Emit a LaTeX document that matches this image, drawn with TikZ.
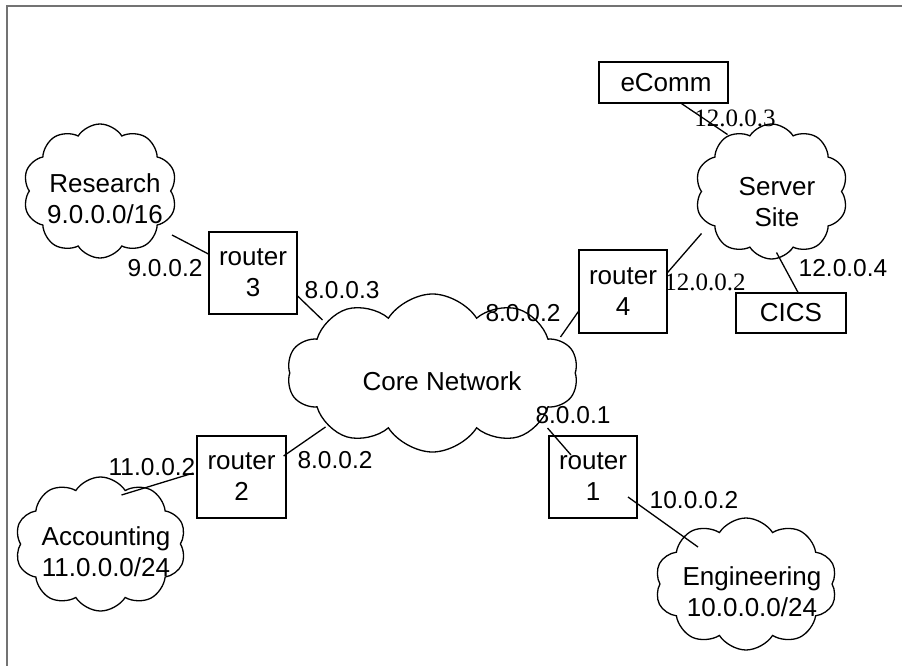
\documentclass[tikz,border=0pt]{standalone}
\usepackage{fontspec}
\setmainfont{Liberation Sans}
\newfontfamily\serifip{Liberation Serif}
\usetikzlibrary{shapes.symbols}
\begin{document}
\begin{tikzpicture}[x=1pt,y=-1pt,line width=1.2pt,
  netcloud/.style={cloud, draw, cloud puffs=10, cloud puff arc=115, inner sep=0pt, line width=1.3pt},
  routerbox/.style={draw, rectangle, inner sep=0pt, align=center, font=\fontsize{26}{31}\selectfont},
  cloudtext/.style={align=center, inner sep=0pt, font=\fontsize{26}{31}\selectfont},
  ip/.style={inner sep=0pt, font=\fontsize{24.5}{28}\selectfont},
  ipserif/.style={inner sep=0pt, font=\serifip\fontsize{25}{28}\selectfont},
  link/.style={draw, line width=1.3pt}]
\useasboundingbox (0,0) rectangle (902,666);
\draw[black!55, line width=1.3pt] (7,666) -- (7,6) -- (902,6);

% clouds
\node[netcloud, minimum width=154pt, minimum height=134pt] (research) at (100,191) {};
\node[netcloud, minimum width=153pt, minimum height=135pt] (server) at (771.5,191.5) {};
\node[netcloud, minimum width=291pt, minimum height=158pt] (core) at (432.5,373) {};
\node[netcloud, minimum width=171pt, minimum height=134pt] (acc) at (100.5,544) {};
\node[netcloud, minimum width=182pt, minimum height=132pt] (eng) at (746,584) {};

\node[cloudtext] (researchtxt) at (105,199) {Research\\9.0.0.0/16};
\node[cloudtext] (servertxt) at (777,202) {Server\\Site};
\node[cloudtext] (coretxt) at (442,381) {Core Network};
\node[cloudtext] (acctxt) at (106,552) {Accounting\\11.0.0.0/24};
\node[cloudtext] (engtxt) at (752,592) {Engineering\\10.0.0.0/24};

% boxes
\node[routerbox, minimum width=88pt, minimum height=82pt] (r3) at (253,273) {router\\3};
\node[routerbox, minimum width=88pt, minimum height=83pt] (r4) at (623,291.5) {router\\4};
\node[routerbox, minimum width=89pt, minimum height=82pt] (r2) at (241.5,477) {router\\2};
\node[routerbox, minimum width=88pt, minimum height=82pt] (r1) at (593,477) {router\\1};
\node[routerbox, minimum width=129pt, minimum height=41pt] (ecomm) at (663.5,82.5) {\hspace*{5pt}eComm};
\node[routerbox, minimum width=110pt, minimum height=40pt] (cics) at (791,313) {CICS};

% links
\draw[link] ([xshift=72pt,yshift=-44pt]research.center) -- ([yshift=19pt]r3.west);
\draw[link] ([yshift=-23pt]r3.east) -- ([xshift=-110pt,yshift=53pt]core.center);
\draw[link] ([yshift=-20pt]r4.west) -- ([xshift=128pt,yshift=36pt]core.center);
\draw[link] ([yshift=19pt]r4.east) -- ([xshift=-70pt,yshift=-42pt]server.center);
\draw[link] ([xshift=18pt]ecomm.south) -- ([xshift=-44pt,yshift=57pt]server.center);
\draw[link] ([xshift=5pt,yshift=-61pt]server.center) -- ([xshift=7pt]cics.north);
\draw[link] ([xshift=-3pt,yshift=4pt]r2.west) -- ([xshift=21pt,yshift=49pt]acc.center);
\draw[link] ([xshift=-3pt,yshift=21pt]r2.east) -- ([xshift=-107pt,yshift=-54pt]core.center);
\draw[link] ([xshift=115pt,yshift=-55pt]core.center) -- ([xshift=-22pt,yshift=22pt]r1.center);
\draw[link] ([xshift=35pt,yshift=-20pt]r1.center) -- ([xshift=-48pt,yshift=37pt]eng.center);

% address labels
\node[ip] (l1) at (165,268) {9.0.0.2};
\node[ip] (l2) at (342,290) {8.0.0.3};
\node[ip] (l3) at (523,313) {8.0.0.2};
\node[ipserif] (l4) at (705,282) {12.0.0.2};
\node[ipserif] (l5) at (735,118) {12.0.0.3};
\node[ip] (l6) at (843,268) {12.0.0.4};
\node[ip] (l7) at (152,467) {11.0.0.2};
\node[ip] (l8) at (335,460) {8.0.0.2};
\node[ip] (l9) at (573,415) {8.0.0.1};
\node[ip] (l10) at (694,500) {10.0.0.2};
\end{tikzpicture}
\end{document}
